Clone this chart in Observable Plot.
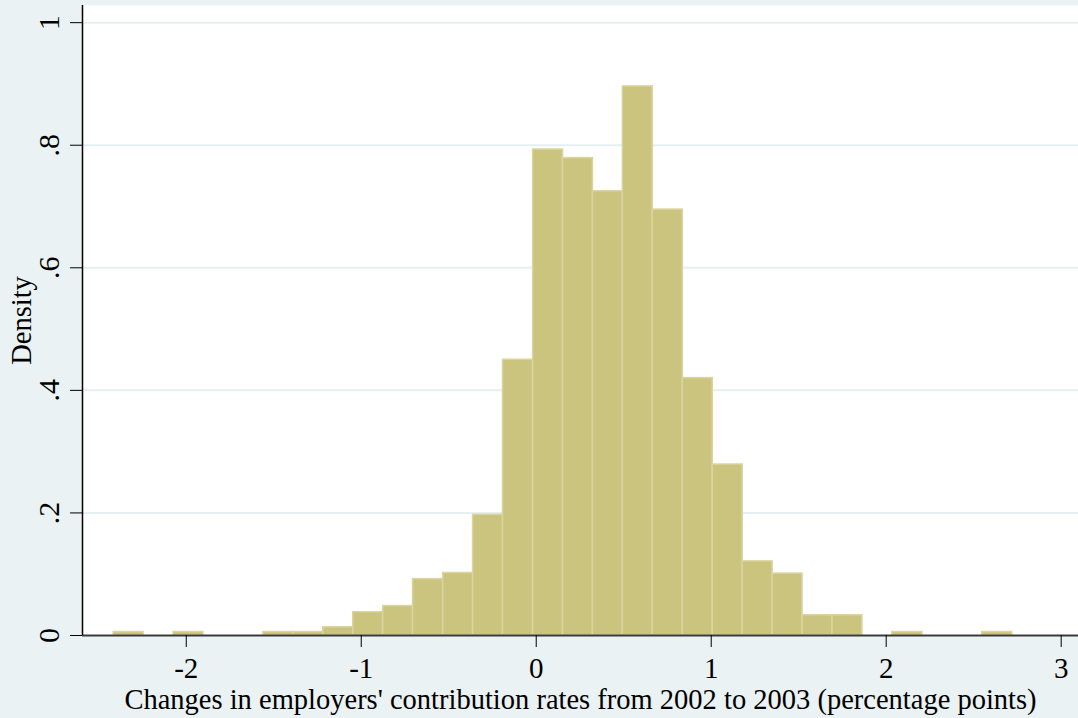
<!DOCTYPE html>
<html><head><meta charset="utf-8">
<script src="https://cdn.jsdelivr.net/npm/d3@7"></script>
<script src="https://cdn.jsdelivr.net/npm/@observablehq/plot@0.6"></script>
<style>html,body{margin:0;padding:0;background:#eaf2f3;}</style>
</head><body><div id="chart"></div>
<script>
const binEdges = [-2.415, -2.244, -2.073, -1.902, -1.730, -1.559, -1.388, -1.217, -1.046, -0.875, -0.704, -0.532, -0.361, -0.190, -0.018, 0.153, 0.324, 0.495, 0.666, 0.838, 1.009, 1.180, 1.351, 1.522, 1.693, 1.864, 2.035, 2.207, 2.378, 2.549, 2.720];
const densities = [0.0057, 0, 0.0057, 0, 0, 0.0057, 0.0057, 0.0135, 0.038, 0.048, 0.092, 0.102, 0.197, 0.45, 0.793, 0.779, 0.725, 0.896, 0.695, 0.42, 0.279, 0.121, 0.101, 0.033, 0.033, 0, 0.0057, 0, 0, 0.0057];
const xTicks = [-2, -1, 0, 1, 2, 3];
const xTickLabels = ["-2", "-1", "0", "1", "2", "3"];
const yTicks = [0, 0.2, 0.4, 0.6, 0.8, 1];
const yTickLabels = ["0", ".2", ".4", ".6", ".8", "1"];
const xLabel = "Changes in employers' contribution rates from 2002 to 2003 (percentage points)";
const yLabel = "Density";
const xDomain = [-2.593, 3.099];
const yDomain = [0, 1.028];

const bins = densities
  .map((d, i) => ({x1: binEdges[i], x2: binEdges[i + 1], density: d}))
  .filter(b => b.density > 0);

const chart = Plot.plot({
  width: 1078, height: 718,
  marginLeft: 82, marginRight: 0, marginTop: 5, marginBottom: 83,
  style: {background: "#eaf2f3", fontFamily: "'Liberation Serif', 'Times New Roman', serif", fontSize: "28.5px", color: "black", overflow: "visible"},
  x: {domain: xDomain},
  y: {domain: yDomain},
  marks: [
    Plot.frame({fill: "white", stroke: "none"}),
    Plot.gridY(yTicks.slice(1), {stroke: "#e6eff1", strokeOpacity: 1, strokeWidth: 2}),
    Plot.rectY(bins, {x1: "x1", x2: "x2", y: "density", fill: "#cbc47e", stroke: "#dad59f", strokeWidth: 1.5}),
    Plot.ruleY([0], {stroke: "#3a3a3a", strokeWidth: 2}),
    Plot.ruleX([xDomain[0]], {stroke: "black", strokeWidth: 1.5}),
    Plot.axisX(xTicks, {tickSize: 12, tickPadding: 10, fontSize: 29, tickFormat: d => xTickLabels[xTicks.indexOf(d)], label: null}),
    Plot.axisX([], {label: xLabel, labelAnchor: "center", labelArrow: "none", labelOffset: 73, tickSize: 0, dx: -6}),
    Plot.axisY(yTicks, {tickSize: 12, tickPadding: 12, fontSize: 30, tickRotate: -90, textAnchor: "middle", lineAnchor: "bottom",
      tickFormat: d => yTickLabels[yTicks.indexOf(d)], label: null}),
    Plot.axisY([], {label: yLabel, labelAnchor: "center", labelArrow: "none", labelOffset: 72, tickSize: 0})
  ]
});
document.getElementById("chart").append(chart);
</script>
</body></html>
